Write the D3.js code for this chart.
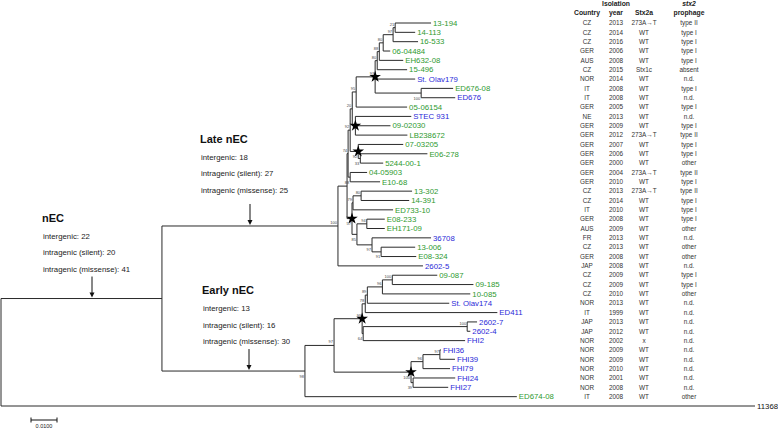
<!DOCTYPE html>
<html><head><meta charset="utf-8">
<script src="https://cdn.jsdelivr.net/npm/d3@7"></script>
<style>body{margin:0;background:#fff} svg{display:block} text{font-family:"Liberation Sans",Arial,Helvetica,sans-serif}</style>
</head><body><svg id="c" width="778" height="431"></svg>
<script>
// ---- data ----
const leafNames = ["13-194","14-113","16-533","06-04484","EH632-08","15-496","St. Olav179","ED676-08","ED676","05-06154","STEC 931","09-02030","LB238672","07-03205","E06-278","5244-00-1","04-05903","E10-68","13-302","14-391","ED733-10","E08-233","EH171-09","36708","13-006","E08-324","2602-5","09-087","09-185","10-085","St. Olav174","ED411","2602-7","2602-4","FHI2","FHI36","FHI39","FHI79","FHI24","FHI27","ED674-08","11368"];
const leafGroup = ["g","g","g","g","g","g","b","g","b","g","b","g","g","g","g","g","g","g","g","g","g","g","g","b","g","g","b","g","g","g","b","b","b","b","b","b","b","b","b","b","g","k"];
const countries = ["CZ","CZ","CZ","GER","AUS","CZ","NOR","IT","IT","GER","NE","GER","GER","GER","GER","GER","GER","GER","CZ","CZ","IT","GER","AUS","FR","CZ","GER","JAP","CZ","CZ","CZ","NOR","IT","JAP","JAP","NOR","NOR","NOR","NOR","NOR","NOR","IT"];
const years = ["2013","2014","2016","2006","2008","2015","2014","2008","2008","2005","2013","2009","2012","2007","2006","2000","2004","2010","2013","2014","2010","2008","2009","2013","2013","2008","2008","2009","2009","2010","2013","1999","2013","2012","2002","2009","2009","2010","2001","2008","2008"];
const stx2a = ["273A→T","WT","WT","WT","WT","Stx1c","WT","WT","WT","WT","WT","WT","273A→T","WT","WT","WT","273A→T","WT","273A→T","WT","WT","WT","WT","WT","WT","WT","WT","WT","WT","WT","WT","WT","WT","WT","x","WT","WT","WT","WT","WT","WT"];
const prophage = ["type II","type I","type I","type I","type I","absent","n.d.","type I","n.d.","type I","n.d.","type I","type II","type I","type I","other","type II","type I","type II","type I","type I","type I","other","n.d.","other","other","n.d.","type I","type I","other","n.d.","n.d.","n.d.","n.d.","n.d.","n.d.","n.d.","n.d.","n.d.","n.d.","other"];
// branches: [node, parent, branch length (subst./site), bootstrap, star]
const branches = [
["root","",0,"",0],
["nEC","root",0.0619,"",0],
["L","nEC",0.0677,"100",0],
["U1","L",0.0035,"",0],
["Ntop","U1",0.0004,"74",0],
["Nm","Ntop",0.0008,"92",0],
["Nj","Nm",0.0008,"20",0],
["Ng","Nj",0.0015,"95",0],
["Nf","Ng",0.0073,"93",1],
["Ne","Nf",0.0008,"80",0],
["Nd","Ne",0.0008,"88",0],
["Nc","Nd",0.0015,"80",0],
["Nb","Nc",0.0038,"97",0],
["Na","Nb",0.0008,"21",0],
["13-194","Na",0.0138],
["14-113","Na",0.0077],
["16-533","Nb",0.0096],
["06-04484","Nc",0.0027],
["EH632-08","Nd",0.0092],
["15-496","Ne",0.0115],
["St. Olav179","Nf",0.0154],
["ED676n","Nf",0.0177,"100",0],
["ED676-08","ED676n",0.0123],
["ED676","ED676n",0.0131],
["05-06154","Ng",0.0196],
["Ni","Nj",0.0012,"",1],
["STEC 931","Ni",0.0215],
["09-02030","Ni",0.0135],
["LB238672","Ni",0.0200],
["Nk","Nm",0.0031,"92",1],
["07-03205","Nk",0.0173],
["Nl","Nk",0.0008,"33",0],
["E06-278","Nl",0.0258],
["5244-00-1","Nl",0.0088],
["Nn","Ntop",0.0008,"88",0],
["04-05903","Nn",0.0065],
["E10-68","Nn",0.0115],
["S1","U1",0.0019,"57",1],
["S1a","S1",0.0004,"79",0],
["S1a1","S1a",0.0031,"80",0],
["13-302","S1a1",0.0196],
["14-391","S1a1",0.0185],
["ED733-10","S1a",0.0154],
["S1b","S1",0.0019,"85",0],
["S1b1","S1b",0.0038,"94",0],
["E08-233","S1b1",0.0069],
["EH171-09","S1b1",0.0069],
["S1b2","S1b",0.0058,"97",0],
["36708","S1b2",0.0227],
["S1b3","S1b2",0.0035,"91",0],
["13-006","S1b3",0.0131],
["E08-324","S1b3",0.0135],
["2602-5","L",0.0327],
["E","nEC",0.0550,"98",0],
["E1","E",0.0112,"97",0],
["A","E1",0.0108,"99",1],
["N4","A",0.0012,"78",0],
["N3","N4",0.0008,"89",0],
["N2","N3",0.0058,"96",0],
["N1","N2",0.0038,"100",0],
["09-087","N1",0.0173],
["09-185","N1",0.0312],
["10-085","N2",0.0338],
["St. Olav174","N3",0.0315],
["ED411","N4",0.0508],
["N6","A",0.0004,"64",0],
["N7","N6",0.0400,"100",0],
["2602-7","N7",0.0038],
["2602-4","N7",0.0012],
["FHI2","N6",0.0392],
["B","E1",0.0296,"100",1],
["B1","B",0.0046,"96",0],
["B2","B1",0.0065,"97",0],
["FHI36","B2",0.0004],
["FHI39","B2",0.0058],
["FHI79","B1",0.0104],
["B3","B",0.0008,"39",0],
["FHI24","B3",0.0162],
["FHI27","B3",0.0135],
["ED674-08","E",0.0815],
["11368","root",0.2900]
];
const annotations = [
  {node:"nEC", title:"nEC", lines:["intergenic: 22","intragenic (silent): 20","intragenic (missense): 41"], tx:42, ax:92, shift:0},
  {node:"L", title:"Late nEC", lines:["intergenic: 18","intragenic (silent): 27","intragenic (missense): 25"], tx:200, ax:250, shift:-6},
  {node:"E", title:"Early nEC", lines:["intergenic: 13","intragenic (silent): 16","intragenic (missense): 30"], tx:202, ax:249, shift:0}
];
const scaleBarValue = 0.01;
const scaleBarLabel = "0.0100";
const colHeaders = [["","Country"],["Isolation","year"],["","Stx2a"],["stx2","prophage"]];

// ---- drawing ----
const svg = d3.select("#c");
const colors = {g:"#2f9a2f", b:"#2a2ad8", k:"#111"};

const root = d3.stratify().id(d=>d[0]).parentId(d=>d[1]||null)(branches);
root.each(d=>{ d.len = d.data[2]; d.depthLen = d.parent ? d.parent.depthLen + d.len : 0; });
const x = d3.scaleLinear().domain([0, scaleBarValue]).range([1, 27]);
const y = d3.scalePoint().domain(leafNames).range([23, 406]);
root.eachAfter(d=>{
  if(!d.children) d.yy = y(d.id);
  else d.yy = (d.children[0].yy + d.children[d.children.length-1].yy)/2;
  d.xx = x(d.depthLen);
});

const g = svg.append("g");
const lineColor = "#2a2a2a";
g.selectAll("line.h").data(root.descendants().filter(d=>d.parent)).join("line")
  .attr("x1",d=>x(d.parent.depthLen)).attr("x2",d=>d.xx)
  .attr("y1",d=>d.yy).attr("y2",d=>d.yy)
  .attr("stroke",lineColor).attr("stroke-width",1);
g.selectAll("line.v").data(root.descendants().filter(d=>d.children)).join("line")
  .attr("x1",d=>d.xx).attr("x2",d=>d.xx)
  .attr("y1",d=>d.children[0].yy).attr("y2",d=>d.children[d.children.length-1].yy)
  .attr("stroke",lineColor).attr("stroke-width",1);

g.selectAll("text.bs").data(root.descendants().filter(d=>d.children && d.data[3])).join("text")
  .attr("x",d=>d.xx-1)
  .attr("y",d=>{ const p=d.parent; const first = p && p.children[0]===d; return first ? d.yy-2 : d.yy+6.5; })
  .attr("text-anchor","end").attr("font-size",4).attr("fill","#444")
  .text(d=>d.data[3]);

g.selectAll("path.star").data(root.descendants().filter(d=>d.data[4])).join("path")
  .attr("transform",d=>`translate(${d.xx},${d.yy})`)
  .attr("d", d3.symbol(d3.symbolStar, 42)).attr("fill","#000");

const leaves = root.leaves();
g.selectAll("text.leaf").data(leaves).join("text")
  .attr("x",d=>d.xx+2).attr("y",d=>d.yy).attr("dy","0.35em")
  .attr("font-size",7.8)
  .attr("fill",d=>colors[leafGroup[leafNames.indexOf(d.id)]])
  .text(d=>d.id);

const colX = [587,616,644,689];
const cols = [countries, years, stx2a, prophage];
cols.forEach((arr,ci)=>{
  svg.append("g").selectAll("text").data(arr).join("text")
    .attr("x",colX[ci]).attr("y",(d,i)=>y(leafNames[i])).attr("dy","0.35em")
    .attr("text-anchor","middle").attr("font-size",6.4).attr("fill","#333")
    .text(d=>d);
  const h = colHeaders[ci];
  h.forEach((t,li)=>{
    if(!t) return;
    svg.append("text").attr("x",colX[ci]).attr("y", li===0 ? 6 : 15.2)
      .attr("text-anchor","middle").attr("font-size",6.8).attr("font-weight","bold")
      .attr("font-style", (ci===3 && li===0) ? "italic" : "normal")
      .attr("fill","#222").text(t);
  });
});

const byId = new Map(root.descendants().map(d=>[d.id,d]));
annotations.forEach(a=>{
  const tip = byId.get(a.node).yy;
  const b = tip + a.shift;
  svg.append("text").attr("x",a.tx).attr("y",b-77).attr("font-size",11).attr("font-weight","bold").attr("fill","#111").text(a.title);
  a.lines.forEach((t,i)=>{
    svg.append("text").attr("x",a.tx+1).attr("y",b-60+i*16.5).attr("font-size",7.8).attr("fill","#222").text(t);
  });
  svg.append("line").attr("x1",a.ax).attr("x2",a.ax).attr("y1",tip-22).attr("y2",tip-5).attr("stroke","#111").attr("stroke-width",1);
  svg.append("path").attr("d",`M${a.ax-2.5},${tip-6}L${a.ax+2.5},${tip-6}L${a.ax},${tip-1}Z`).attr("fill","#111");
});

const sbx = 31, sby = 420;
const sbw = x(scaleBarValue) - x(0);
svg.append("line").attr("x1",sbx).attr("x2",sbx+sbw).attr("y1",sby).attr("y2",sby).attr("stroke","#111");
[sbx, sbx+sbw].forEach(v=>svg.append("line").attr("x1",v).attr("x2",v).attr("y1",sby-2.5).attr("y2",sby+2.5).attr("stroke","#111"));
svg.append("text").attr("x",sbx+sbw/2).attr("y",sby+8).attr("text-anchor","middle").attr("font-size",5.5).attr("fill","#222").text(scaleBarLabel);
</script></body></html>
